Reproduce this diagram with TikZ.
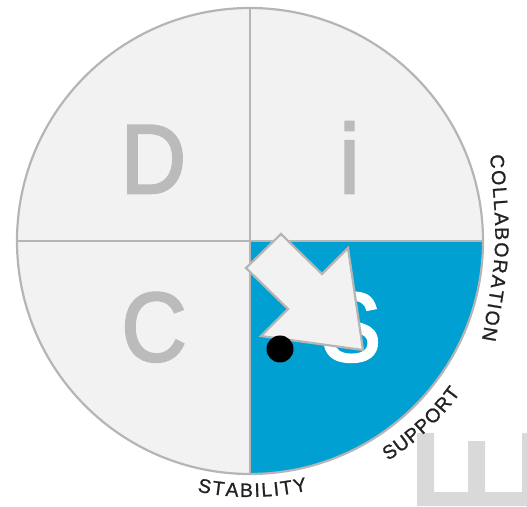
\documentclass[tikz,border=0pt]{standalone}
\usepackage{fontspec}
\setmainfont{Liberation Sans}
\newfontfamily\bigfam[FakeBold=2.6]{Liberation Sans}
\newfontfamily\lblfam[FakeBold=1]{Liberation Sans}
\usetikzlibrary{decorations.text}
\definecolor{quadfill}{HTML}{F2F2F2}
\definecolor{edgegray}{HTML}{B5B5B5}
\definecolor{sblue}{HTML}{00A1D2}
\definecolor{lettergray}{HTML}{BBBBBB}
\definecolor{labelc}{HTML}{222222}
\definecolor{eboxc}{HTML}{D9D9D9}
\newcommand\bigletterfont{\bigfam\fontsize{98}{98}\selectfont}
\newcommand\lblfont{\lblfam\fontsize{19.5}{21}\selectfont\color{labelc}}
\tikzset{
  bigletter/.style={anchor=base, inner sep=0pt, outer sep=0pt, font=\bigletterfont, text=lettergray, xscale=0.92},
  divider/.style={draw=edgegray, line width=2.2pt},
  curvedlabel/.style={decorate, decoration={text along path, text={|\lblfont|#1}, text align={fit to path}}}
}
\begin{document}
\begin{tikzpicture}[x=1pt,y=1pt]
\useasboundingbox (0,0) rectangle (527,506);
\coordinate (O) at (250,265);
% grey E-like shape at bottom right
\fill[eboxc] (417,73) -- (434,73) -- (434,14) -- (468,14) -- (468,65) -- (485,65) -- (485,14) -- (522,14) -- (522,73) -- (527,73) -- (527,0) -- (417,0) -- cycle;
% circle and quadrants
\fill[quadfill] (O) circle[radius=233];
\fill[sblue] (O) -- (483,265) arc[start angle=0, end angle=-90, radius=233] -- cycle;
\draw[divider] (250,32) -- (250,498);
\draw[divider] (17,265) -- (483,265);
\draw[divider] (O) circle[radius=233];
% letters
\node[bigletter] (D) at (153.5,313) {D};
\node[bigletter] (I) at (349.5,313) {i};
\node[bigletter] (C) at (154,145) {C};
\node[bigletter, text=white] (S) at (351,145) {S};
% arrow
\draw[fill=quadfill, draw=edgegray, line width=2.2pt, line join=miter]
  (281,272) -- (246,238) -- (288,197) -- (261,170) -- (363,156) -- (348,258) -- (322,232) -- cycle;
% dot
\fill[black] (280,157) circle[radius=13.5];
% labels
\path[curvedlabel={STABILITY}] ([shift={(250,265)}]-101.9:256) arc[start angle=-101.9, end angle=-77.0, radius=256];
\path[curvedlabel={SUPPORT}] ([shift={(250,265)}]-57.9:259.5) arc[start angle=-57.9, end angle=-35.8, radius=259.5];
\path[curvedlabel={COLLABORATION}] (490,351) .. controls (498,259) .. (482,166);
\end{tikzpicture}
\end{document}
